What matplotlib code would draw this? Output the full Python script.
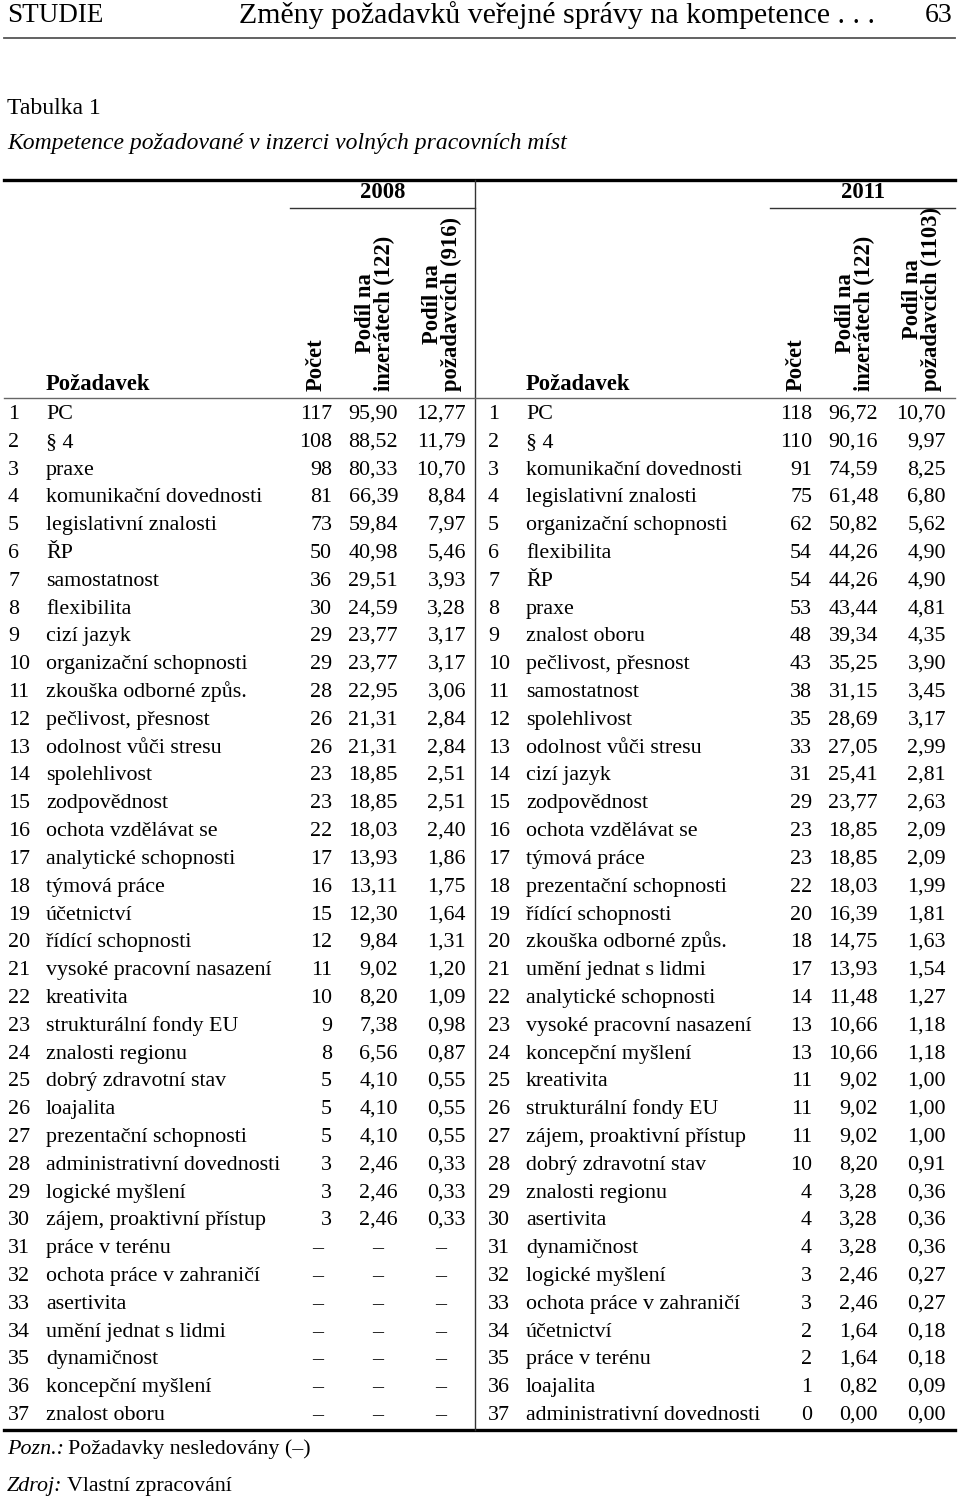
import matplotlib.pyplot as plt

# table data, 2008
req_2008 = ["PC", "§ 4", "praxe", "komunikační dovednosti", "legislativní znalosti", "ŘP",
            "samostatnost", "flexibilita", "cizí jazyk", "organizační schopnosti",
            "zkouška odborné způs.", "pečlivost, přesnost", "odolnost vůči stresu",
            "spolehlivost", "zodpovědnost", "ochota vzdělávat se", "analytické schopnosti",
            "týmová práce", "účetnictví", "řídící schopnosti", "vysoké pracovní nasazení",
            "kreativita", "strukturální fondy EU", "znalosti regionu", "dobrý zdravotní stav",
            "loajalita", "prezentační schopnosti", "administrativní dovednosti",
            "logické myšlení", "zájem, proaktivní přístup", "práce v terénu",
            "ochota práce v zahraničí", "asertivita", "umění jednat s lidmi", "dynamičnost",
            "koncepční myšlení", "znalost oboru"]
count_2008 = [117, 108, 98, 81, 73, 50, 36, 30, 29, 29, 28, 26, 26, 23, 23, 22, 17, 16, 15,
              12, 11, 10, 9, 8, 5, 5, 5, 3, 3, 3, None, None, None, None, None, None, None]
share_ads_2008 = ["95,90", "88,52", "80,33", "66,39", "59,84", "40,98", "29,51", "24,59",
                  "23,77", "23,77", "22,95", "21,31", "21,31", "18,85", "18,85", "18,03",
                  "13,93", "13,11", "12,30", "9,84", "9,02", "8,20", "7,38", "6,56", "4,10",
                  "4,10", "4,10", "2,46", "2,46", "2,46", None, None, None, None, None, None, None]
share_req_2008 = ["12,77", "11,79", "10,70", "8,84", "7,97", "5,46", "3,93", "3,28", "3,17",
                  "3,17", "3,06", "2,84", "2,84", "2,51", "2,51", "2,40", "1,86", "1,75",
                  "1,64", "1,31", "1,20", "1,09", "0,98", "0,87", "0,55", "0,55", "0,55",
                  "0,33", "0,33", "0,33", None, None, None, None, None, None, None]

# table data, 2011
req_2011 = ["PC", "§ 4", "komunikační dovednosti", "legislativní znalosti",
            "organizační schopnosti", "flexibilita", "ŘP", "praxe", "znalost oboru",
            "pečlivost, přesnost", "samostatnost", "spolehlivost", "odolnost vůči stresu",
            "cizí jazyk", "zodpovědnost", "ochota vzdělávat se", "týmová práce",
            "prezentační schopnosti", "řídící schopnosti", "zkouška odborné způs.",
            "umění jednat s lidmi", "analytické schopnosti", "vysoké pracovní nasazení",
            "koncepční myšlení", "kreativita", "strukturální fondy EU",
            "zájem, proaktivní přístup", "dobrý zdravotní stav", "znalosti regionu",
            "asertivita", "dynamičnost", "logické myšlení", "ochota práce v zahraničí",
            "účetnictví", "práce v terénu", "loajalita", "administrativní dovednosti"]
count_2011 = [118, 110, 91, 75, 62, 54, 54, 53, 48, 43, 38, 35, 33, 31, 29, 23, 23, 22, 20,
              18, 17, 14, 13, 13, 11, 11, 11, 10, 4, 4, 4, 3, 3, 2, 2, 1, 0]
share_ads_2011 = ["96,72", "90,16", "74,59", "61,48", "50,82", "44,26", "44,26", "43,44",
                  "39,34", "35,25", "31,15", "28,69", "27,05", "25,41", "23,77", "18,85",
                  "18,85", "18,03", "16,39", "14,75", "13,93", "11,48", "10,66", "10,66",
                  "9,02", "9,02", "9,02", "8,20", "3,28", "3,28", "3,28", "2,46", "2,46",
                  "1,64", "1,64", "0,82", "0,00"]
share_req_2011 = ["10,70", "9,97", "8,25", "6,80", "5,62", "4,90", "4,90", "4,81", "4,35",
                  "3,90", "3,45", "3,17", "2,99", "2,81", "2,63", "2,09", "2,09", "1,99",
                  "1,81", "1,63", "1,54", "1,27", "1,18", "1,18", "1,00", "1,00", "1,00",
                  "0,91", "0,36", "0,36", "0,36", "0,27", "0,27", "0,18", "0,18", "0,09",
                  "0,00"]

plt.rcParams['font.family'] = ['Liberation Serif', 'DejaVu Serif']

fig = plt.figure(figsize=(9.6, 15.01), dpi=100)
ax = fig.add_axes([0, 0, 1, 1])
ax.set_xlim(0, 960)
ax.set_ylim(1501, 0)
ax.axis('off')

fs = 15.8      # body text
hfs = 16.3     # bold header text

# page header
ax.text(7, 15, "STUDIE", fontsize=19.5, va='center', ha='left')
ax.text(557, 15, "Změny požadavků veřejné správy na kompetence . . .", fontsize=21.5,
        va='center', ha='center')
ax.text(953, 15, "63", fontsize=20, va='center', ha='right')
ax.plot([4, 955], [38, 38], color='#555555', lw=1.3)

ax.text(7, 108, "Tabulka 1", fontsize=17, va='center', ha='left')
ax.text(7, 143, "Kompetence požadované v inzerci volných pracovních míst", fontsize=17,
        va='center', ha='left', style='italic')

# table frame
ax.plot([4, 955], [180, 180], color='black', lw=2.4)
ax.plot([4, 955], [1430, 1430], color='black', lw=2.4)
ax.plot([475, 475], [180, 1430], color='#333333', lw=1.0)
ax.plot([4, 955], [398, 398], color='#666666', lw=1.0)

blocks = [
    (0, "2008", "(916)", req_2008, count_2008, share_ads_2008, share_req_2008),
    (480, "2011", "(1103)", req_2011, count_2011, share_ads_2011, share_req_2011),
]

y0 = 419       # baseline of first row
dy = (1414 - 413) / 36

for xo, year, total, names, counts, ads, reqs in blocks:
    ax.text(xo + 383, 193, year, fontsize=hfs, fontweight='bold', ha='center', va='center')
    ax.plot([xo + 290, xo + 475], [208, 208], color='#333333', lw=1.0)
    ax.text(xo + 46, 390, "Požadavek", fontsize=hfs, fontweight='bold', ha='left',
            va='baseline')
    ax.text(xo + 316, 391, "Počet", fontsize=hfs, fontweight='bold', rotation=90,
            ha='center', va='bottom')
    ax.text(xo + 375, 391, "Podíl na\ninzerátech (122)", fontsize=hfs, fontweight='bold',
            rotation=90, ha='center', va='bottom', multialignment='center',
            linespacing=0.92)
    ax.text(xo + 442, 391, "Podíl na\npožadavcích " + total, fontsize=hfs,
            fontweight='bold', rotation=90, ha='center', va='bottom',
            multialignment='center', linespacing=0.92)

    for i in range(len(names)):
        y = round(y0 + i * dy)
        ax.text(xo + 8, y, str(i + 1), fontsize=fs, ha='left', va='baseline')
        ax.text(xo + 46, y, names[i], fontsize=fs, ha='left', va='baseline')
        if counts[i] is None:
            ax.text(xo + 318, y, "–", fontsize=fs, ha='center', va='baseline')
            ax.text(xo + 378, y, "–", fontsize=fs, ha='center', va='baseline')
            ax.text(xo + 441, y, "–", fontsize=fs, ha='center', va='baseline')
        else:
            ax.text(xo + 332, y, str(counts[i]), fontsize=fs, ha='right', va='baseline')
            ax.text(xo + 398, y, ads[i], fontsize=fs, ha='right', va='baseline')
            ax.text(xo + 466, y, reqs[i], fontsize=fs, ha='right', va='baseline')

# notes: italic label followed by upright text
for y, label, rest in [(1449, "Pozn.:", "Požadavky nesledovány (–)"),
                       (1486, "Zdroj:", "Vlastní zpracování")]:
    t = ax.text(7, y, label, fontsize=fs, style='italic', ha='left', va='center')
    ax.annotate(rest, xy=(1, 0.5), xycoords=t, xytext=(3, 0), textcoords='offset points',
                fontsize=fs, ha='left', va='center')

fig.savefig("out.png", dpi=100)
